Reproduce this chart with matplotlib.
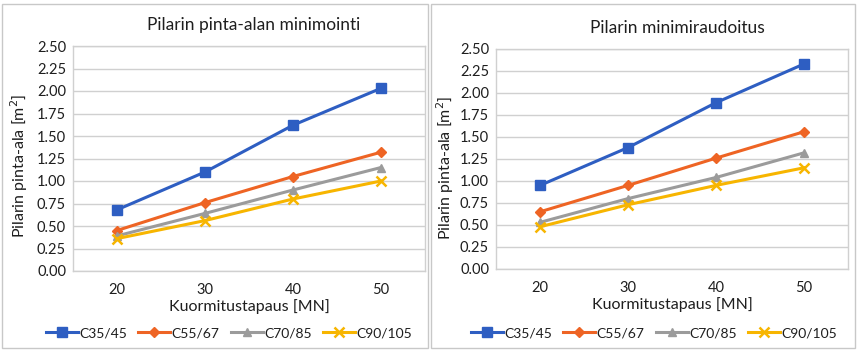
import matplotlib
matplotlib.use("Agg")
import matplotlib.pyplot as plt
from matplotlib.patches import Rectangle

plt.rcParams['font.family'] = ['Lato', 'DejaVu Sans']

# data
loads = ["20", "30", "40", "50"]
series_names = ["C35/45", "C55/67", "C70/85", "C90/105"]

area_min = [
    [0.68, 1.10, 1.62, 2.03],
    [0.45, 0.76, 1.05, 1.32],
    [0.39, 0.64, 0.90, 1.15],
    [0.36, 0.56, 0.80, 1.00],
]
reinf_min = [
    [0.95, 1.38, 1.89, 2.33],
    [0.65, 0.95, 1.26, 1.56],
    [0.53, 0.80, 1.04, 1.32],
    [0.48, 0.73, 0.95, 1.15],
]
yticks = [0.0, 0.25, 0.5, 0.75, 1.0, 1.25, 1.5, 1.75, 2.0, 2.25, 2.5]

colors = ["#2E5EC2", "#EE6424", "#9B9B9B", "#F7B500"]
markers = ["s", "D", "^", "x"]
msizes = [7, 5, 6, 7]

W, H = 857, 351
fig = plt.figure(figsize=(W / 100, H / 100), dpi=100)

def px(x0, y0, x1, y1):
    return [x0 / W, 1 - y1 / H, (x1 - x0) / W, (y1 - y0) / H]

# panel borders
for x0, x1 in [(2, 428), (431, 855)]:
    fig.patches.append(Rectangle((x0 / W, 3 / H), (x1 - x0) / W, (H - 7) / H,
                                 transform=fig.transFigure, fill=False,
                                 edgecolor="#C8C8C8", linewidth=1.0))

def draw(rect, data, title, title_y, ylab_x, ylab_y, leg_x):
    ax = fig.add_axes(px(*rect))
    xs = range(len(loads))
    for vals, name, c, m, ms in zip(data, series_names, colors, markers, msizes):
        ax.plot(xs, vals, color=c, marker=m, markersize=ms, linewidth=2.2,
                markeredgewidth=1.8 if m == "x" else 1.0, label=name)
    ax.set_xlim(-0.5, 3.5)
    ax.set_ylim(0, 2.5)
    ax.set_yticks(yticks)
    ax.set_yticklabels([f"{v:.2f}" for v in yticks])
    ax.set_xticks(list(xs))
    ax.set_xticklabels(loads)
    ax.tick_params(length=0, labelsize=10.5, colors="#1E1E1E", pad=5)
    ax.tick_params(axis="x", pad=9)
    ax.grid(axis="y", color="#D0D0D0", linewidth=1.0)
    ax.set_axisbelow(True)
    for s in ax.spines.values():
        s.set_color("#D0D0D0")
        s.set_linewidth(1.0)
    ax.set_xlabel("Kuormitustapaus [MN]", fontsize=11.5, labelpad=1, color="#1E1E1E")
    fig.text(ylab_x / W, 1 - ylab_y / H,
             "Pilarin pinta-ala [m$^2$]", rotation=90, ha="center", va="center",
             fontsize=11.5, color="#1E1E1E")
    fig.text(((rect[0] + rect[2]) / 2 + 5) / W, 1 - title_y / H, title,
             ha="center", va="center", fontsize=12.5, color="#1E1E1E")
    fig.legend(loc="center", bbox_to_anchor=(leg_x / W, 1 - 333 / H), ncol=4,
               frameon=False, fontsize=10, handlelength=2.3, columnspacing=0.8,
               handletextpad=0.1, handles=ax.get_lines(), labelcolor="#1E1E1E")
    return ax

draw((73, 46, 425, 271), area_min, "Pilarin pinta-alan minimointi", 25, 19, 166, 229)
draw((496, 49, 848, 269), reinf_min, "Pilarin minimiraudoitus", 28, 445, 168, 654)

fig.savefig("out.png", dpi=100)
